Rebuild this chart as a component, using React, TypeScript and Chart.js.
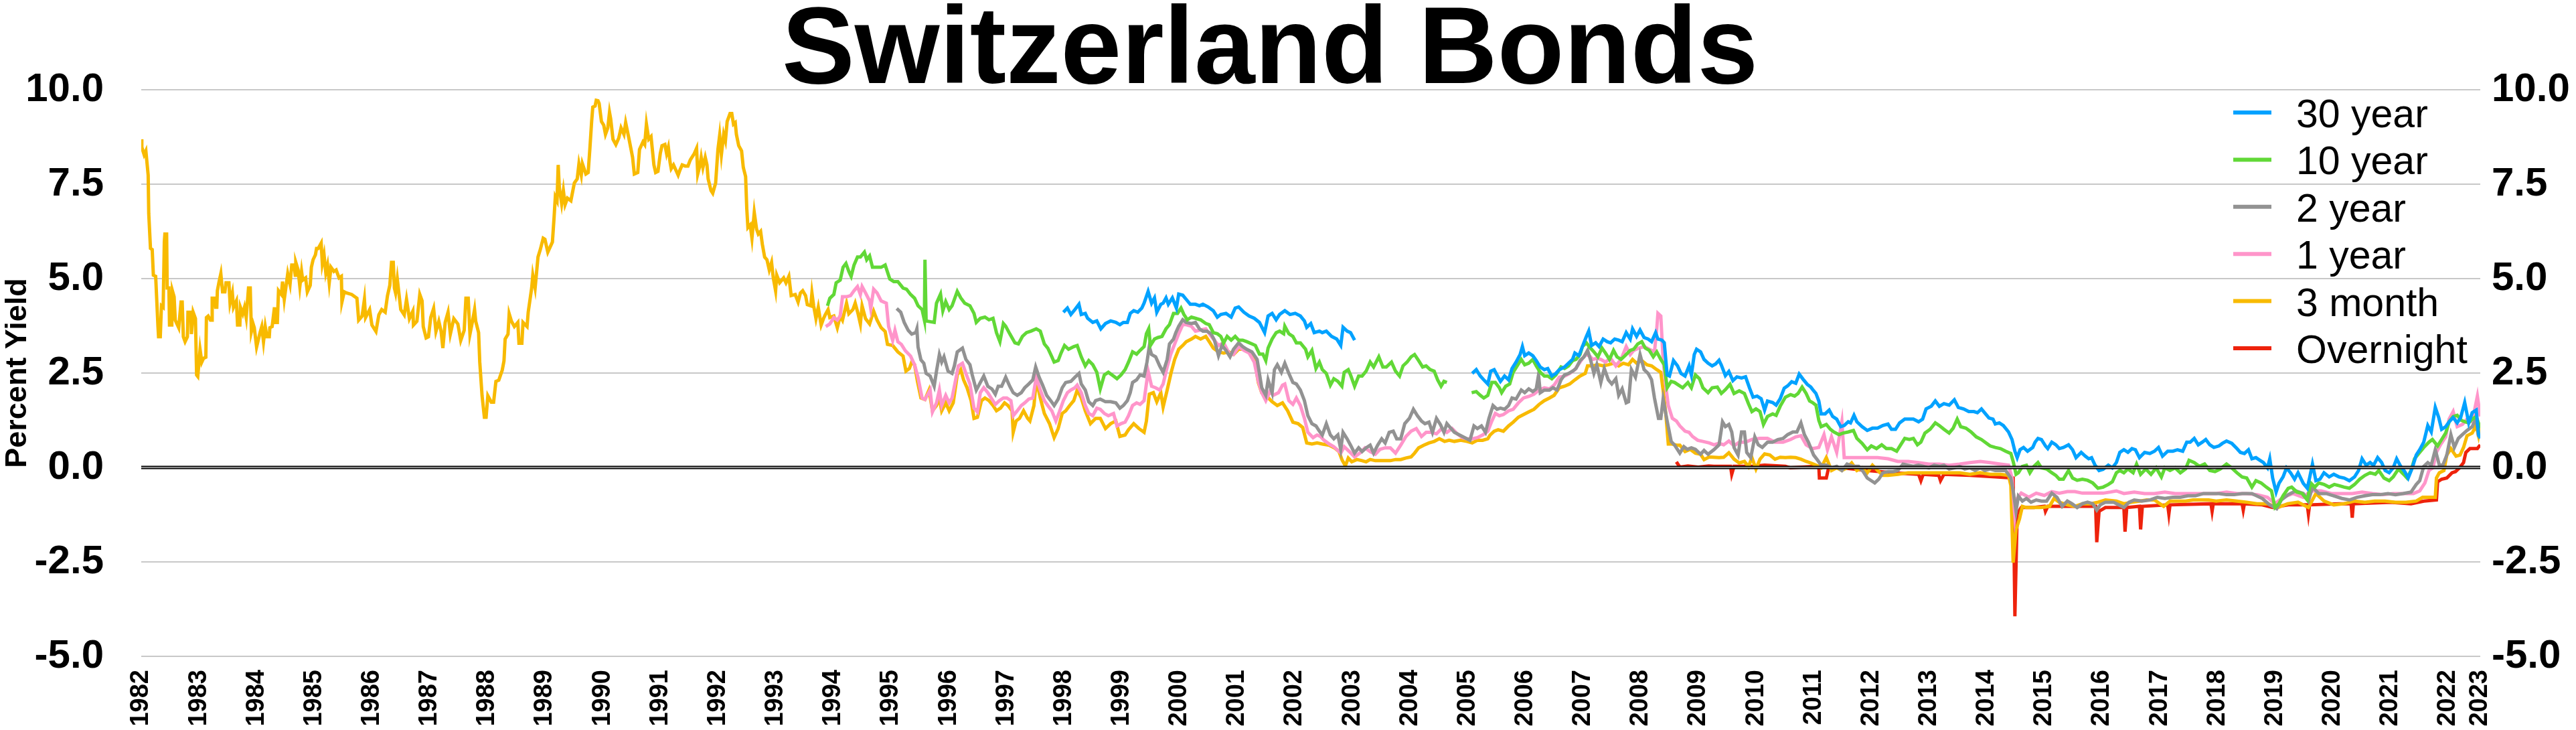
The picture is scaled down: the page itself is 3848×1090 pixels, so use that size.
import React, { useEffect, useRef } from "react";
import { Chart, registerables } from "chart.js";

Chart.register(...registerables);

const FONT = '"Liberation Sans", Arial, Helvetica, sans-serif';

const chartTitle = "Switzerland Bonds";
const yAxisTitle = "Percent Yield";
const seriesLabels = ["30 year", "10 year", "2 year", "1 year", "3 month", "Overnight"];
const seriesColors = ["#00a2ff", "#61d836", "#929292", "#ff95ca", "#f8ba00", "#ee220c"];

const xTickValues = [1982, 1983, 1984, 1985, 1986, 1987, 1988, 1989, 1990, 1991, 1992, 1993, 1994, 1995, 1996, 1997, 1998, 1999, 2000, 2001, 2002, 2003, 2004, 2005, 2006, 2007, 2008, 2009, 2010, 2011, 2012, 2013, 2014, 2015, 2016, 2017, 2018, 2019, 2020, 2021, 2022, 2022.56];
const xTickLabels = ["1982", "1983", "1984", "1985", "1986", "1987", "1988", "1989", "1990", "1991", "1992", "1993", "1994", "1995", "1996", "1997", "1998", "1999", "2000", "2001", "2002", "2003", "2004", "2005", "2006", "2007", "2008", "2009", "2010", "2011", "2012", "2013", "2014", "2015", "2016", "2017", "2018", "2019", "2020", "2021", "2022", "2023"];
const xMin = 1982;
const xMax = 2022.56;
const yMin = -5;
const yMax = 10;
const yStep = 2.5;

type P = [number, number | null];

const yield30y: P[] = [
[1997.99,4.11],[1998.06,4.22],[1998.12,4.05],[1998.19,4.18],[1998.26,4.32],[1998.30,4.05],[1998.37,4.08],[1998.41,3.95],[1998.50,3.84],[1998.57,3.88],[1998.64,3.67],[1998.72,3.81],[1998.81,3.88],[1998.90,3.84],[1998.97,3.78],[1999.03,3.84],[1999.10,3.84],[1999.15,4.08],[1999.21,4.15],[1999.28,4.11],[1999.35,4.22],[1999.39,4.35],[1999.46,4.66],[1999.52,4.35],[1999.57,4.49],[1999.61,4.11],[1999.68,4.32],[1999.72,4.35],[1999.77,4.49],[1999.81,4.32],[1999.88,4.49],[1999.95,4.22],[1999.99,4.59],[2000.06,4.56],[2000.12,4.45],[2000.19,4.32],[2000.28,4.32],[2000.35,4.28],[2000.41,4.32],[2000.50,4.25],[2000.59,4.15],[2000.66,3.98],[2000.72,4.05],[2000.81,4.08],[2000.90,3.98],[2000.97,4.22],[2001.03,4.25],[2001.12,4.11],[2001.21,4.01],[2001.30,3.95],[2001.39,3.84],[2001.48,3.57],[2001.54,4.01],[2001.61,4.08],[2001.68,3.91],[2001.74,4.05],[2001.83,4.15],[2001.92,4.05],[2002.01,4.08],[2002.10,4.01],[2002.17,3.88],[2002.21,3.71],[2002.28,3.81],[2002.34,3.57],[2002.43,3.61],[2002.48,3.57],[2002.55,3.61],[2002.64,3.47],[2002.73,3.40],[2002.80,3.23],[2002.84,3.71],[2002.91,3.61],[2002.97,3.57],[2003.04,3.37],
[2004.00,null],
[2005.08,2.49],[2005.15,2.59],[2005.22,2.42],[2005.28,2.32],[2005.35,2.21],[2005.40,2.55],[2005.46,2.59],[2005.53,2.39],[2005.57,2.28],[2005.64,2.42],[2005.71,2.32],[2005.77,2.62],[2005.84,2.79],[2005.91,2.99],[2005.95,3.20],[2005.99,2.96],[2006.06,3.03],[2006.13,2.96],[2006.19,2.83],[2006.26,2.66],[2006.33,2.59],[2006.39,2.62],[2006.46,2.42],[2006.53,2.49],[2006.59,2.59],[2006.68,2.66],[2006.75,2.76],[2006.82,2.86],[2006.86,3.03],[2006.93,2.96],[2006.99,3.20],[2007.06,3.47],[2007.10,3.61],[2007.15,3.23],[2007.22,3.30],[2007.28,3.20],[2007.35,3.40],[2007.42,3.33],[2007.48,3.30],[2007.55,3.40],[2007.62,3.37],[2007.68,3.33],[2007.75,3.57],[2007.82,3.40],[2007.86,3.67],[2007.93,3.47],[2007.99,3.64],[2008.06,3.44],[2008.13,3.40],[2008.19,3.33],[2008.26,3.57],[2008.30,3.40],[2008.37,3.37],[2008.41,3.30],[2008.46,2.45],[2008.50,2.42],[2008.57,2.83],[2008.64,2.69],[2008.70,2.49],[2008.77,2.42],[2008.84,2.69],[2008.88,2.45],[2008.93,2.99],[2008.97,3.13],[2009.04,3.06],[2009.10,2.86],[2009.17,2.76],[2009.24,2.69],
[2009.30,2.74],[2009.36,2.84],[2009.40,2.71],[2009.47,2.43],[2009.53,2.54],[2009.60,2.30],[2009.67,2.40],[2009.75,2.37],[2009.82,2.40],[2009.89,2.10],[2009.95,1.86],[2010.02,1.89],[2010.09,1.82],[2010.15,1.52],[2010.20,1.76],[2010.29,1.72],[2010.35,1.65],[2010.42,1.82],[2010.49,2.10],[2010.55,2.16],[2010.62,2.27],[2010.69,2.23],[2010.75,2.47],[2010.82,2.33],[2010.89,2.20],[2010.95,2.13],[2011.00,2.03],[2011.04,1.96],[2011.09,1.76],[2011.13,1.42],[2011.20,1.42],[2011.27,1.52],[2011.33,1.35],[2011.40,1.28],[2011.47,1.08],[2011.53,1.11],[2011.60,1.21],[2011.64,1.18],[2011.70,1.38],[2011.75,1.21],[2011.84,1.08],[2011.93,0.98],[2012.02,1.04],[2012.11,1.04],[2012.20,1.11],[2012.29,1.15],[2012.35,1.01],[2012.42,1.01],[2012.49,1.18],[2012.58,1.28],[2012.66,1.28],[2012.73,1.28],[2012.82,1.21],[2012.89,1.28],[2012.95,1.55],[2013.04,1.62],[2013.11,1.76],[2013.18,1.62],[2013.26,1.69],[2013.35,1.65],[2013.44,1.79],[2013.51,1.59],[2013.60,1.55],[2013.69,1.48],[2013.78,1.48],[2013.84,1.45],[2013.91,1.55],[2013.98,1.42],[2014.04,1.31],[2014.11,1.28],[2014.15,1.15],[2014.22,1.18],[2014.29,1.11],[2014.38,0.94],[2014.44,0.74],[2014.49,0.43],[2014.53,0.26],[2014.58,0.47],[2014.64,0.53],[2014.71,0.43],[2014.80,0.53],[2014.84,0.67],[2014.89,0.77],[2014.95,0.74],[2015.02,0.57],[2015.06,0.50],[2015.13,0.67],[2015.20,0.60],[2015.26,0.50],[2015.33,0.53],[2015.42,0.60],[2015.49,0.47],[2015.55,0.26],[2015.64,0.40],[2015.71,0.30],[2015.77,0.23],[2015.82,0.26],[2015.88,0.06],[2015.95,-0.08],[2016.02,-0.05],[2016.11,0.06],
[2016.18,-0.01],[2016.25,0.13],[2016.31,0.40],[2016.38,0.47],[2016.45,0.40],[2016.52,0.50],[2016.58,0.47],[2016.65,0.26],[2016.74,0.40],[2016.83,0.37],[2016.91,0.43],[2016.98,0.53],[2017.05,0.30],[2017.14,0.43],[2017.23,0.43],[2017.31,0.47],[2017.40,0.43],[2017.47,0.67],[2017.53,0.67],[2017.60,0.77],[2017.67,0.60],[2017.74,0.67],[2017.80,0.74],[2017.87,0.60],[2017.94,0.53],[2018.03,0.57],[2018.09,0.64],[2018.16,0.70],[2018.25,0.64],[2018.34,0.50],[2018.40,0.40],[2018.47,0.37],[2018.54,0.47],[2018.60,0.23],[2018.67,0.26],[2018.74,0.19],[2018.80,0.13],[2018.87,-0.01],[2018.91,0.23],[2018.96,-0.28],[2019.02,-0.65],[2019.07,-0.42],[2019.14,-0.25],[2019.20,-0.01],[2019.27,-0.14],[2019.34,-0.31],[2019.40,-0.14],[2019.49,-0.42],[2019.56,-0.55],[2019.60,-0.28],[2019.65,0.09],[2019.71,-0.35],[2019.78,-0.31],[2019.85,-0.14],[2019.94,-0.25],[2020.02,-0.18],[2020.11,-0.25],[2020.20,-0.28],[2020.29,-0.35],[2020.38,-0.25],[2020.45,-0.08],[2020.51,0.23],[2020.58,0.06],[2020.65,0.13],[2020.71,0.06],[2020.78,0.26],[2020.85,0.13],[2020.91,-0.08],[2020.98,-0.14],[2021.05,-0.01],[2021.11,0.23],[2021.18,0.03],[2021.25,-0.11],[2021.31,-0.28],[2021.38,-0.01],[2021.45,0.33],[2021.51,0.47],[2021.58,0.67],[2021.65,1.11],[2021.71,0.94],[2021.78,1.59],[2021.84,1.32],[2021.89,1.01],[2021.96,1.08],[2022.02,1.21],[2022.09,1.32],[2022.16,1.18],[2022.22,1.32],[2022.29,1.72],[2022.36,1.18],[2022.42,1.45],[2022.49,1.52],[2022.53,0.87],[2022.56,0.77]
];

const yield10y: P[] = [
[1993.90,4.28],[1993.94,4.48],[1994.01,4.58],[1994.05,4.89],[1994.12,4.96],[1994.17,5.30],[1994.22,5.40],[1994.27,5.19],[1994.31,5.06],[1994.36,5.36],[1994.42,5.57],[1994.47,5.57],[1994.54,5.70],[1994.58,5.50],[1994.63,5.60],[1994.68,5.30],[1994.76,5.30],[1994.83,5.30],[1994.90,5.36],[1994.98,4.99],[1995.05,4.92],[1995.12,4.92],[1995.21,4.75],[1995.27,4.72],[1995.34,4.58],[1995.41,4.48],[1995.47,4.28],[1995.54,4.18],[1995.58,3.90],[1995.59,5.50],[1995.61,3.88],
[1995.75,3.84],[1995.79,4.35],[1995.86,4.59],[1995.90,4.15],[1995.95,4.39],[1996.01,4.18],[1996.06,4.28],[1996.15,4.66],[1996.21,4.49],[1996.28,4.35],[1996.37,4.28],[1996.44,4.08],[1996.48,3.84],[1996.55,3.95],[1996.63,3.98],[1996.70,3.91],[1996.77,3.95],[1996.83,3.57],[1996.89,3.33],[1996.95,3.81],[1996.99,3.74],[1997.06,3.54],[1997.15,3.30],[1997.21,3.27],[1997.28,3.47],[1997.35,3.57],[1997.43,3.61],[1997.52,3.67],[1997.59,3.61],[1997.66,3.27],[1997.72,3.16],[1997.79,2.93],[1997.83,2.79],[1997.90,2.83],[1997.95,3.03],[1998.01,3.23],[1998.08,3.13],[1998.17,3.20],[1998.23,3.23],[1998.30,2.93],[1998.37,2.69],[1998.43,2.83],[1998.50,2.72],[1998.57,2.52],[1998.63,2.08],[1998.70,2.45],[1998.77,2.52],[1998.86,2.42],[1998.92,2.35],[1998.99,2.45],[1999.06,2.59],[1999.12,2.79],[1999.19,3.06],[1999.26,3.00],[1999.32,3.10],[1999.39,3.20],[1999.43,3.54],[1999.47,3.67],[1999.50,3.23],[1999.57,3.40],[1999.63,3.44],[1999.70,3.47],[1999.77,3.67],[1999.83,3.78],[1999.90,4.08],[1999.97,4.08],[2000.03,4.22],[2000.08,4.05],[2000.14,3.91],[2000.21,3.98],[2000.28,3.95],[2000.37,3.91],[2000.46,3.81],[2000.52,3.78],[2000.59,3.57],[2000.66,3.54],[2000.72,3.47],[2000.77,3.30],[2000.83,3.47],[2000.90,3.37],[2000.97,3.47],[2001.03,3.37],[2001.10,3.37],[2001.17,3.33],[2001.26,3.27],[2001.32,3.23],[2001.39,3.00],[2001.45,3.00],[2001.50,2.83],[2001.54,3.16],[2001.61,3.40],[2001.68,3.57],[2001.74,3.61],[2001.81,3.54],[2001.83,3.74],[2001.90,3.54],[2001.97,3.47],[2002.03,3.30],[2002.10,3.30],[2002.19,3.13],[2002.23,2.93],[2002.30,3.10],[2002.37,2.62],[2002.43,2.79],
[2002.48,2.59],[2002.55,2.49],[2002.62,2.18],[2002.68,2.35],[2002.75,2.28],[2002.82,2.15],[2002.86,2.52],[2002.93,2.59],[2002.97,2.45],[2003.04,2.15],[2003.11,2.42],[2003.17,2.42],[2003.24,2.55],[2003.31,2.79],[2003.37,2.66],[2003.46,2.93],[2003.53,2.66],[2003.59,2.66],[2003.68,2.79],[2003.75,2.55],[2003.82,2.42],[2003.88,2.69],[2003.95,2.79],[2004.02,2.93],[2004.08,2.99],[2004.15,2.83],[2004.22,2.66],[2004.28,2.69],[2004.35,2.59],[2004.42,2.55],[2004.48,2.32],[2004.54,2.15],[2004.59,2.28],[2004.64,2.25],
[2004.85,null],
[2005.07,1.98],[2005.15,2.01],[2005.22,1.91],[2005.28,1.84],[2005.35,1.91],[2005.42,2.25],[2005.48,2.25],[2005.55,2.11],[2005.59,1.98],[2005.66,2.15],[2005.73,2.21],[2005.79,2.52],[2005.86,2.69],[2005.93,2.86],[2005.99,2.72],[2006.06,2.76],[2006.13,2.86],[2006.19,2.69],[2006.26,2.52],[2006.33,2.42],[2006.39,2.42],[2006.46,2.35],[2006.53,2.45],[2006.62,2.66],[2006.68,2.62],[2006.75,2.69],[2006.82,2.83],[2006.88,2.86],[2006.95,2.99],[2006.99,3.20],[2007.06,3.30],[2007.13,3.16],[2007.19,3.06],[2007.26,2.93],[2007.33,3.16],[2007.39,3.03],[2007.46,2.86],[2007.53,3.10],[2007.59,2.93],[2007.66,2.86],[2007.73,2.96],[2007.82,3.10],[2007.88,3.13],[2007.95,3.27],[2008.02,3.33],[2008.08,3.16],[2008.15,3.10],[2008.22,2.93],[2008.28,3.06],[2008.35,2.86],[2008.41,2.72],[2008.46,2.11],[2008.53,2.28],[2008.59,2.25],[2008.66,2.18],[2008.73,2.11],[2008.82,2.25],[2008.88,2.11],[2008.95,2.45],[2009.02,2.35],[2009.08,2.11],[2009.17,1.98],[2009.24,2.11],
[2009.33,2.13],[2009.40,1.96],[2009.47,2.06],[2009.55,2.20],[2009.62,1.96],[2009.71,2.03],[2009.80,1.96],[2009.87,1.69],[2009.93,1.48],[2010.00,1.55],[2010.07,1.48],[2010.13,1.14],[2010.20,1.35],[2010.29,1.42],[2010.35,1.38],[2010.42,1.62],[2010.51,1.86],[2010.60,1.93],[2010.67,1.89],[2010.73,1.96],[2010.80,2.13],[2010.87,1.96],[2010.93,1.76],[2010.98,1.72],[2011.04,1.65],[2011.09,1.25],[2011.13,1.08],[2011.22,1.14],[2011.29,1.01],[2011.35,0.94],[2011.44,0.87],[2011.51,0.91],[2011.60,0.94],[2011.69,0.98],[2011.75,0.77],[2011.84,0.64],[2011.93,0.47],[2012.00,0.57],[2012.09,0.50],[2012.18,0.60],[2012.26,0.50],[2012.35,0.50],[2012.44,0.43],[2012.51,0.60],[2012.58,0.77],[2012.66,0.74],[2012.73,0.77],[2012.80,0.60],[2012.86,0.67],[2012.93,0.91],[2013.02,1.01],[2013.11,1.18],[2013.18,1.11],[2013.26,1.01],[2013.35,0.91],[2013.42,1.04],[2013.49,1.28],[2013.55,1.08],[2013.64,1.04],[2013.73,0.94],[2013.82,0.81],[2013.91,0.74],[2014.00,0.64],[2014.06,0.57],[2014.15,0.53],[2014.24,0.50],[2014.33,0.43],[2014.42,0.37],[2014.46,0.16],[2014.51,-0.18],[2014.55,-0.14],[2014.62,0.03],[2014.69,0.06],[2014.75,-0.14],[2014.82,0.03],[2014.89,0.13],[2014.95,-0.01],[2015.04,-0.04],[2015.13,-0.14],[2015.20,-0.21],[2015.26,-0.31],[2015.33,-0.31],[2015.42,-0.08],[2015.49,-0.28],[2015.57,-0.34],[2015.66,-0.31],[2015.75,-0.34],[2015.84,-0.41],[2015.93,-0.55],[2016.02,-0.52],[2016.11,-0.45],
[2016.18,-0.38],[2016.25,-0.14],[2016.31,-0.08],[2016.38,-0.14],[2016.45,-0.04],[2016.54,-0.14],[2016.60,0.09],[2016.67,-0.18],[2016.76,-0.04],[2016.85,-0.18],[2016.94,-0.01],[2017.03,-0.25],[2017.09,-0.01],[2017.18,-0.08],[2017.27,-0.01],[2017.36,-0.14],[2017.45,-0.04],[2017.51,0.19],[2017.60,0.13],[2017.69,0.03],[2017.78,0.09],[2017.87,-0.08],[2017.96,-0.11],[2018.05,-0.04],[2018.16,0.09],[2018.25,-0.01],[2018.34,-0.14],[2018.43,-0.25],[2018.51,-0.28],[2018.60,-0.52],[2018.67,-0.35],[2018.76,-0.41],[2018.85,-0.52],[2018.94,-0.62],[2019.00,-1.06],[2019.07,-0.96],[2019.14,-0.75],[2019.23,-0.55],[2019.29,-0.52],[2019.38,-0.65],[2019.47,-0.69],[2019.56,-0.86],[2019.62,-0.41],[2019.69,-0.52],[2019.76,-0.41],[2019.85,-0.45],[2019.94,-0.52],[2020.03,-0.45],[2020.11,-0.48],[2020.20,-0.52],[2020.29,-0.55],[2020.38,-0.45],[2020.47,-0.31],[2020.56,-0.21],[2020.65,-0.14],[2020.74,-0.18],[2020.80,-0.08],[2020.89,-0.28],[2020.98,-0.35],[2021.05,-0.25],[2021.14,-0.04],[2021.23,-0.18],[2021.29,-0.28],[2021.36,-0.08],[2021.42,0.23],[2021.51,0.40],[2021.58,0.53],[2021.67,0.67],[2021.73,0.74],[2021.82,0.57],[2021.89,0.74],[2021.96,0.91],[2022.02,1.21],[2022.09,1.35],[2022.16,1.38],[2022.23,1.25],[2022.29,1.21],[2022.36,1.18],[2022.42,1.28],[2022.49,1.35],[2022.56,1.04]
];

const yield2y: P[] = [
[1995.10,4.21],[1995.17,4.11],[1995.23,3.84],[1995.30,3.63],[1995.36,3.53],[1995.43,3.57],[1995.45,3.67],[1995.47,3.19],[1995.52,2.85],
[1995.57,2.76],[1995.61,2.49],[1995.68,2.42],[1995.75,2.15],[1995.79,2.55],[1995.84,2.99],[1995.88,2.79],[1995.92,2.93],[1995.99,2.55],[1996.06,2.49],[1996.10,2.69],[1996.15,3.06],[1996.24,3.16],[1996.30,2.86],[1996.37,2.72],[1996.41,2.45],[1996.48,2.05],[1996.55,2.25],[1996.61,2.42],[1996.68,2.15],[1996.75,2.08],[1996.81,1.94],[1996.86,2.15],[1996.92,2.15],[1996.99,2.39],[1997.06,2.15],[1997.12,1.98],[1997.19,1.91],[1997.26,1.98],[1997.32,2.11],[1997.39,2.21],[1997.46,2.32],[1997.51,2.66],[1997.57,2.39],[1997.63,2.18],[1997.70,1.91],[1997.77,1.77],[1997.83,1.64],[1997.90,1.81],[1997.97,2.11],[1998.03,2.25],[1998.12,2.28],[1998.19,2.39],[1998.26,2.49],[1998.30,2.21],[1998.37,2.05],[1998.43,1.74],[1998.50,1.64],[1998.55,1.77],[1998.63,1.81],[1998.72,1.74],[1998.81,1.74],[1998.90,1.71],[1998.97,1.57],[1999.03,1.64],[1999.10,1.77],[1999.15,1.98],[1999.19,2.25],[1999.26,2.32],[1999.32,2.45],[1999.39,2.42],[1999.44,2.79],[1999.48,3.20],[1999.52,2.99],[1999.59,2.93],[1999.66,2.69],[1999.72,2.52],[1999.79,2.86],[1999.83,3.27],[1999.90,3.40],[1999.94,3.57],[1999.99,3.74],[2000.06,3.91],[2000.12,3.84],[2000.21,3.81],[2000.28,3.84],[2000.35,3.67],[2000.41,3.61],[2000.48,3.61],[2000.55,3.54],[2000.61,3.37],[2000.68,2.96],[2000.74,3.23],[2000.81,3.10],[2000.88,2.93],[2000.94,3.13],[2001.03,3.30],[2001.10,3.20],[2001.17,3.13],[2001.26,3.06],[2001.35,2.86],[2001.39,2.49],[2001.43,2.11],[2001.50,1.91],[2001.54,2.32],[2001.61,1.98],[2001.65,2.59],[2001.70,2.72],[2001.77,2.52],[2001.83,2.76],[2001.90,2.49],[2001.97,2.25],[2002.03,2.21],[2002.10,2.05],[2002.17,1.77],[2002.23,1.37],[2002.30,1.16],[2002.37,1.10],[2002.43,0.96],
[2002.48,0.86],[2002.55,1.16],[2002.62,0.86],[2002.68,0.76],[2002.75,0.86],[2002.80,0.48],[2002.84,0.93],[2002.91,0.76],[2002.97,0.59],[2003.04,0.38],[2003.11,0.52],[2003.17,0.42],[2003.24,0.52],[2003.31,0.59],[2003.37,0.38],[2003.44,0.59],[2003.51,0.76],[2003.57,0.65],[2003.64,0.93],[2003.71,0.96],[2003.77,0.76],[2003.84,0.76],[2003.91,1.16],[2003.99,1.30],[2004.06,1.54],[2004.13,1.37],[2004.20,1.23],[2004.26,1.16],[2004.33,1.20],[2004.39,0.93],[2004.46,1.30],[2004.53,1.13],[2004.59,0.93],[2004.64,1.16],[2004.77,0.93],[2004.91,0.82],[2005.04,0.72],[2005.11,1.10],[2005.17,1.03],[2005.24,1.10],[2005.31,0.93],[2005.37,1.30],[2005.44,1.64],[2005.51,1.54],[2005.57,1.57],[2005.64,1.54],[2005.71,1.64],[2005.77,1.84],[2005.84,1.81],[2005.93,2.05],[2005.99,1.98],[2006.06,2.08],[2006.13,2.01],[2006.19,2.08],[2006.23,2.45],[2006.26,1.98],[2006.33,2.05],[2006.42,2.05],[2006.48,2.11],[2006.55,2.05],[2006.62,2.32],[2006.68,2.45],[2006.75,2.49],[2006.82,2.55],[2006.88,2.62],[2006.95,2.83],[2007.02,2.93],[2007.08,3.10],[2007.13,2.86],[2007.19,2.49],[2007.24,2.72],[2007.31,2.25],[2007.37,2.62],[2007.44,2.32],[2007.50,2.21],[2007.57,2.35],[2007.62,1.91],[2007.68,2.08],[2007.75,1.71],[2007.79,1.74],[2007.84,2.59],[2007.91,2.39],[2007.99,2.99],[2008.06,2.59],[2008.13,2.49],[2008.19,2.32],[2008.24,1.84],[2008.31,1.30],[2008.35,1.30],[2008.39,1.81],[2008.46,1.23],[2008.53,0.69],[2008.59,0.59],[2008.68,0.38],[2008.75,0.55],[2008.81,0.48],[2008.88,0.52],[2008.95,0.48],[2009.04,0.35],[2009.10,0.45],[2009.17,0.35],
[2009.27,0.47],[2009.36,0.60],[2009.42,1.21],[2009.47,1.08],[2009.53,1.14],[2009.58,0.94],[2009.62,0.53],[2009.69,0.33],[2009.75,0.94],[2009.80,0.94],[2009.84,0.40],[2009.91,0.26],[2009.98,0.81],[2010.04,0.60],[2010.11,0.53],[2010.20,0.67],[2010.29,0.67],[2010.38,0.74],[2010.47,0.77],[2010.55,0.87],[2010.64,0.94],[2010.71,0.94],[2010.78,1.18],[2010.84,0.87],[2010.91,0.67],[2011.00,0.33],[2011.07,0.19],[2011.13,0.06],[2011.22,0.06],[2011.31,-0.01],[2011.40,0.03],[2011.49,-0.08],[2011.58,0.09],[2011.69,0.03],[2011.78,0.03],[2011.86,-0.11],[2011.93,-0.28],[2012.00,-0.35],[2012.06,-0.41],[2012.13,-0.31],[2012.20,-0.14],[2012.29,-0.11],[2012.38,-0.11],[2012.46,-0.08],[2012.55,0.09],[2012.64,0.06],[2012.73,0.03],[2012.82,0.06],[2012.91,0.03],[2013.00,-0.01],[2013.09,0.06],[2013.18,0.03],[2013.26,0.06],[2013.35,-0.04],[2013.44,-0.01],[2013.53,0.03],[2013.62,-0.04],[2013.71,-0.01],[2013.80,-0.08],[2013.89,-0.01],[2013.97,-0.08],[2014.06,-0.04],[2014.15,-0.08],[2014.24,-0.08],[2014.33,-0.08],[2014.42,-0.28],[2014.46,-0.62],[2014.51,-1.16],[2014.55,-0.76],[2014.62,-0.89],[2014.69,-0.82],[2014.77,-0.92],[2014.86,-0.86],[2014.95,-0.89],[2015.04,-0.89],[2015.13,-0.68],[2015.22,-0.79],[2015.31,-1.03],[2015.40,-0.89],[2015.48,-0.96],[2015.57,-1.06],[2015.66,-0.96],[2015.75,-0.92],[2015.84,-0.96],[2015.91,-1.13],[2015.97,-0.99],[2016.06,-0.92],
[2016.20,-0.92],[2016.29,-0.99],[2016.38,-1.06],[2016.47,-0.92],[2016.56,-0.86],[2016.69,-0.89],[2016.83,-0.86],[2016.96,-0.79],[2017.09,-0.82],[2017.23,-0.79],[2017.36,-0.79],[2017.49,-0.75],[2017.62,-0.75],[2017.76,-0.69],[2017.89,-0.69],[2018.03,-0.69],[2018.16,-0.72],[2018.29,-0.72],[2018.43,-0.69],[2018.60,-0.69],[2018.78,-0.82],[2018.91,-0.99],[2019.03,-1.09],[2019.11,-0.86],[2019.23,-0.72],[2019.36,-0.62],[2019.49,-0.69],[2019.58,-0.89],[2019.65,-0.52],[2019.76,-0.69],[2019.89,-0.69],[2020.02,-0.75],[2020.16,-0.82],[2020.29,-0.86],[2020.42,-0.79],[2020.56,-0.75],[2020.69,-0.72],[2020.82,-0.72],[2020.96,-0.69],[2021.09,-0.72],[2021.22,-0.69],[2021.36,-0.65],[2021.45,-0.45],[2021.51,-0.35],[2021.58,0.03],[2021.65,0.13],[2021.71,0.06],[2021.78,0.47],[2021.85,0.06],[2021.91,0.06],[2021.98,0.33],[2022.05,0.87],[2022.11,0.53],[2022.18,0.77],[2022.25,0.87],[2022.33,0.98],[2022.42,1.08],[2022.49,1.31],[2022.53,0.81]
];

const yield1y: P[] = [
[1993.87,3.73],[1993.94,3.80],[1994.01,3.97],[1994.07,3.90],[1994.12,4.01],[1994.16,4.52],[1994.23,4.52],[1994.30,4.55],[1994.36,4.68],[1994.42,4.79],[1994.47,4.58],[1994.50,4.79],[1994.56,4.62],[1994.63,4.41],[1994.65,4.21],[1994.70,4.72],[1994.76,4.62],[1994.83,4.41],[1994.92,4.35],[1994.96,3.73],[1995.03,3.36],[1995.07,3.63],[1995.12,3.33],[1995.18,3.26],[1995.25,3.09],[1995.34,2.95],[1995.41,2.72],[1995.47,2.38],[1995.54,1.84],[1995.59,1.80],
[1995.68,2.05],[1995.72,1.47],[1995.79,1.71],[1995.84,2.05],[1995.88,1.64],[1995.95,1.91],[1996.01,1.71],[1996.06,1.84],[1996.10,2.15],[1996.17,2.69],[1996.24,2.76],[1996.30,2.49],[1996.37,2.21],[1996.44,1.57],[1996.50,1.47],[1996.55,1.98],[1996.61,2.11],[1996.68,1.98],[1996.75,1.81],[1996.81,1.67],[1996.88,1.77],[1996.95,1.84],[1997.01,1.84],[1997.08,1.77],[1997.12,1.37],[1997.19,1.50],[1997.26,1.64],[1997.32,1.71],[1997.39,1.81],[1997.46,1.84],[1997.52,2.39],[1997.59,2.05],[1997.66,1.77],[1997.72,1.64],[1997.79,1.50],[1997.86,1.23],[1997.92,1.47],[1997.99,1.77],[1998.06,1.98],[1998.12,2.05],[1998.19,2.11],[1998.23,2.18],[1998.30,1.98],[1998.37,1.64],[1998.43,1.43],[1998.50,1.37],[1998.57,1.57],[1998.63,1.54],[1998.70,1.43],[1998.77,1.37],[1998.86,1.43],[1998.92,1.10],[1998.99,1.16],[1999.06,1.20],[1999.12,1.37],[1999.19,1.64],[1999.26,1.71],[1999.32,1.67],[1999.39,1.77],[1999.46,2.55],[1999.52,2.15],[1999.59,2.11],[1999.66,2.05],[1999.72,2.21],[1999.79,2.66],[1999.85,2.99],[1999.92,3.27],[1999.99,3.54],[2000.06,3.78],[2000.12,3.78],[2000.21,3.74],[2000.28,3.61],[2000.37,3.64],[2000.46,3.67],[2000.52,3.54],[2000.59,3.40],[2000.68,3.23],[2000.77,3.30],[2000.86,3.03],[2000.94,2.99],[2001.03,3.20],[2001.12,3.10],[2001.21,3.03],[2001.30,2.79],[2001.37,2.28],[2001.43,1.98],[2001.50,1.77],[2001.57,2.01],[2001.63,1.91],[2001.72,1.98],[2001.79,2.18],[2001.83,2.21],[2001.90,1.77],[2001.97,1.67],[2002.03,1.84],[2002.10,1.64],[2002.17,1.30],[2002.23,0.93],[2002.32,0.79],[2002.39,0.86],[2002.45,0.82],
[2002.51,0.72],[2002.60,0.62],[2002.68,0.55],[2002.80,0.38],[2002.86,0.55],[2002.95,0.42],[2003.04,0.28],[2003.13,0.38],[2003.22,0.52],[2003.31,0.42],[2003.40,0.35],[2003.48,0.48],[2003.57,0.52],[2003.66,0.52],[2003.75,0.38],[2003.84,0.59],[2003.93,0.82],[2004.02,0.96],[2004.11,1.03],[2004.20,0.82],[2004.28,0.93],[2004.37,0.93],[2004.46,0.89],[2004.55,1.03],[2004.64,0.93],[2004.73,1.03],[2004.82,0.89],[2004.91,0.79],[2004.99,0.76],[2005.08,0.76],[2005.17,0.79],[2005.26,0.86],[2005.35,0.96],[2005.42,1.23],[2005.48,1.43],[2005.55,1.37],[2005.62,1.40],[2005.71,1.50],[2005.79,1.54],[2005.88,1.71],[2005.97,1.84],[2006.06,1.88],[2006.15,1.94],[2006.24,2.05],[2006.33,2.11],[2006.42,2.08],[2006.50,2.18],[2006.59,2.39],[2006.68,2.42],[2006.77,2.49],[2006.86,2.59],[2006.95,2.79],[2007.04,2.99],[2007.11,2.96],[2007.17,2.86],[2007.24,2.89],[2007.31,2.86],[2007.39,2.79],[2007.48,2.89],[2007.57,2.69],[2007.66,2.86],[2007.75,3.20],[2007.82,2.99],[2007.88,3.10],[2007.97,3.16],[2008.06,3.20],[2008.15,3.13],[2008.24,3.06],[2008.28,3.67],[2008.30,4.08],[2008.35,4.01],[2008.39,2.86],[2008.44,2.11],[2008.48,1.64],[2008.55,1.30],[2008.62,1.23],[2008.68,1.10],[2008.77,0.96],[2008.84,0.93],[2008.90,0.82],[2008.99,0.72],[2009.08,0.69],[2009.19,0.65],
[2009.27,0.60],[2009.36,0.64],[2009.44,0.60],[2009.53,0.70],[2009.62,0.57],[2009.71,0.67],[2009.82,0.67],[2009.93,0.74],[2010.07,0.77],[2010.20,0.77],[2010.33,0.67],[2010.47,0.67],[2010.60,0.74],[2010.69,0.81],[2010.78,0.84],[2010.87,0.60],[2010.98,0.50],[2011.09,0.53],[2011.18,0.87],[2011.24,0.47],[2011.31,0.81],[2011.40,0.40],[2011.49,1.21],[2011.53,0.26],[2011.62,0.26],[2011.75,0.26],[2011.93,0.26],[2012.11,0.26],[2012.29,0.23],[2012.46,0.16],[2012.64,0.16],[2012.82,0.13],[2013.00,0.09],[2013.18,0.09],[2013.35,0.06],[2013.53,0.09],[2013.71,0.13],[2013.89,0.16],[2014.06,0.13],[2014.24,0.09],[2014.38,0.06],[2014.44,-0.28],[2014.49,-1.30],[2014.53,-0.82],[2014.60,-0.68],[2014.73,-0.79],[2014.86,-0.68],[2015.00,-0.74],[2015.13,-0.64],[2015.26,-0.68],[2015.40,-0.64],[2015.53,-0.64],[2015.66,-0.68],[2015.84,-0.68],[2016.02,-0.68],
[2016.15,-0.65],[2016.25,-0.62],[2016.38,-0.69],[2016.56,-0.65],[2016.74,-0.69],[2016.91,-0.69],[2017.09,-0.65],[2017.27,-0.69],[2017.45,-0.69],[2017.62,-0.69],[2017.80,-0.69],[2017.98,-0.69],[2018.16,-0.65],[2018.34,-0.69],[2018.51,-0.69],[2018.69,-0.72],[2018.87,-0.79],[2019.00,-0.96],[2019.14,-0.79],[2019.31,-0.69],[2019.49,-0.79],[2019.62,-0.62],[2019.80,-0.62],[2019.98,-0.69],[2020.16,-0.69],[2020.34,-0.69],[2020.51,-0.65],[2020.69,-0.69],[2020.87,-0.72],[2021.05,-0.69],[2021.22,-0.69],[2021.40,-0.69],[2021.51,-0.62],[2021.60,-0.41],[2021.67,-0.08],[2021.74,-0.01],[2021.80,0.40],[2021.87,0.60],[2021.96,0.81],[2022.02,1.28],[2022.09,1.48],[2022.16,1.08],[2022.25,1.14],[2022.33,1.28],[2022.42,1.21],[2022.51,1.89],[2022.56,1.35]
];

const yield3m: P[] = [
[1982.00,8.69],[1982.01,8.48],[1982.05,8.28],[1982.08,8.38],[1982.12,7.74],[1982.13,6.72],[1982.16,5.80],[1982.19,5.77],[1982.21,5.09],[1982.25,5.06],[1982.29,3.73],[1982.30,3.46],[1982.33,3.46],[1982.35,4.28],[1982.38,4.24],[1982.40,5.97],[1982.41,6.18],[1982.44,6.18],[1982.45,4.75],[1982.48,4.75],[1982.49,3.77],[1982.53,3.77],[1982.54,4.68],[1982.57,4.52],[1982.59,3.90],[1982.65,3.70],[1982.69,4.38],[1982.71,4.38],[1982.73,3.46],[1982.76,3.33],[1982.80,3.46],[1982.81,4.11],[1982.86,4.11],[1982.87,3.53],[1982.90,4.11],[1982.94,3.94],[1982.96,2.45],[1982.98,2.41],[1983.02,3.12],[1983.05,2.79],[1983.08,2.89],[1983.12,2.92],[1983.13,3.97],[1983.16,4.01],[1983.20,3.90],[1983.22,3.90],[1983.23,4.48],[1983.27,4.48],[1983.29,4.24],[1983.31,4.24],[1983.32,4.68],[1983.35,4.92],[1983.38,5.13],[1983.41,4.65],[1983.45,4.65],[1983.47,4.89],[1983.52,4.89],[1983.54,4.35],[1983.58,4.62],[1983.60,4.24],[1983.65,4.41],[1983.67,3.77],[1983.71,3.77],[1983.72,4.24],[1983.76,4.07],[1983.79,4.24],[1983.82,3.97],[1983.86,4.75],[1983.89,4.75],[1983.91,3.60],[1983.94,3.80],[1983.96,3.70],[1984.00,3.19],[1984.06,3.57],[1984.09,3.73],[1984.12,3.33],[1984.15,3.73],[1984.18,3.46],[1984.22,3.46],[1984.23,3.70],[1984.27,3.73],[1984.31,4.24],[1984.33,3.84],[1984.36,3.84],[1984.38,4.68],[1984.43,4.58],[1984.45,4.92],[1984.48,4.45],[1984.51,4.79],[1984.54,5.13],[1984.58,4.85],[1984.61,5.36],[1984.65,5.36],[1984.67,5.09],[1984.68,5.43],[1984.72,5.23],[1984.75,4.79],[1984.78,5.19],[1984.80,4.96],[1984.85,5.02],[1984.88,4.65],[1984.93,4.82],[1984.95,5.30],[1984.98,5.50],[1985.02,5.63],[1985.04,5.80],[1985.07,5.80],[1985.12,5.94],[1985.14,5.40],[1985.17,5.63],[1985.20,5.16],[1985.23,5.36],[1985.26,4.89],[1985.29,5.30],[1985.34,5.19],[1985.38,5.23],[1985.43,5.02],[1985.47,5.06],[1985.48,4.38],[1985.52,4.65],[1985.56,4.62],[1985.65,4.58],[1985.74,4.48],[1985.77,3.90],[1985.83,4.01],[1985.87,4.45],[1985.89,3.97],[1985.96,4.18],[1986.00,3.77],[1986.07,3.60],[1986.12,4.04],[1986.17,4.18],[1986.23,4.11],[1986.27,4.55],[1986.31,4.82],[1986.34,5.43],[1986.37,5.43],[1986.39,4.75],[1986.41,4.62],[1986.44,4.99],[1986.50,4.18],[1986.56,4.04],[1986.60,4.45],[1986.65,3.94],[1986.71,4.14],[1986.72,3.77],[1986.78,3.87],[1986.83,4.58],[1986.87,4.41],[1986.89,3.73],[1986.94,3.43],[1986.98,3.46],[1987.02,3.97],[1987.07,4.21],[1987.11,3.60],[1987.16,3.87],[1987.20,3.60],[1987.23,3.16],[1987.27,3.84],[1987.32,4.11],[1987.36,3.53],[1987.42,3.94],[1987.49,3.80],[1987.54,3.36],[1987.60,3.63],[1987.63,4.48],[1987.67,4.48],[1987.70,3.53],[1987.74,3.84],[1987.78,4.18],[1987.80,3.87],[1987.85,3.57],[1987.87,2.79],[1987.91,1.90],[1987.95,1.33],[1987.98,1.33],[1988.01,1.90],[1988.07,1.73],[1988.11,1.73],[1988.15,2.28],[1988.20,2.31],[1988.26,2.58],[1988.29,2.82],[1988.31,3.40],[1988.36,3.53],[1988.38,4.07],[1988.42,3.87],[1988.47,3.73],[1988.53,3.84],[1988.55,3.29],[1988.60,3.29],[1988.62,3.84],[1988.69,3.73],[1988.71,4.11],
[1988.77,4.75],[1988.79,5.09],[1988.83,4.75],[1988.88,5.57],[1988.92,5.77],[1988.97,6.07],[1989.00,6.04],[1989.05,5.70],[1989.13,5.97],[1989.16,6.65],[1989.18,7.16],[1989.21,7.06],[1989.23,8.01],[1989.25,7.40],[1989.29,6.99],[1989.32,7.33],[1989.35,6.96],[1989.39,7.13],[1989.45,7.06],[1989.51,7.53],[1989.56,7.64],[1989.59,8.04],[1989.63,7.74],[1989.65,8.04],[1989.71,7.77],[1989.75,7.81],[1989.78,8.45],[1989.81,9.16],[1989.83,9.54],[1989.87,9.57],[1989.89,9.72],[1989.92,9.71],[1989.94,9.64],[1989.98,9.16],[1990.02,9.06],[1990.05,8.82],[1990.09,8.99],[1990.12,9.40],[1990.14,9.23],[1990.18,8.69],[1990.23,8.55],[1990.28,8.72],[1990.32,8.99],[1990.37,8.82],[1990.40,9.13],[1990.45,8.76],[1990.49,8.45],[1990.52,8.21],[1990.55,7.77],[1990.61,7.81],[1990.64,8.42],[1990.70,8.62],[1990.73,8.55],[1990.76,9.09],[1990.80,8.69],[1990.84,8.76],[1990.89,8.01],[1990.92,7.81],[1990.96,7.84],[1991.00,8.31],[1991.03,8.52],[1991.08,8.55],[1991.11,8.31],[1991.14,8.48],[1991.17,8.08],[1991.19,7.91],[1991.23,8.01],[1991.28,7.84],[1991.31,7.74],[1991.34,7.87],[1991.38,8.01],[1991.43,7.98],[1991.48,7.98],[1991.52,8.14],[1991.59,8.31],[1991.63,8.45],[1991.65,7.77],[1991.69,8.01],[1991.71,8.21],[1991.74,7.94],[1991.78,8.21],[1991.81,8.01],[1991.83,7.64],[1991.88,7.33],[1991.91,7.26],[1991.96,7.53],[1992.00,8.42],[1992.03,8.79],[1992.06,8.28],[1992.10,8.82],[1992.13,8.65],[1992.16,9.16],[1992.21,9.37],[1992.24,9.37],[1992.27,9.09],[1992.30,9.13],[1992.32,8.82],[1992.36,8.52],[1992.41,8.38],[1992.44,7.94],[1992.48,7.70],[1992.50,6.86],[1992.52,6.35],[1992.56,6.42],[1992.59,6.07],[1992.63,6.75],[1992.67,6.31],[1992.70,6.18],[1992.74,6.25],[1992.77,5.91],[1992.81,5.57],[1992.85,5.50],[1992.89,5.23],[1992.93,5.43],[1992.96,5.02],[1993.00,4.68],[1993.02,5.09],[1993.07,4.89],[1993.14,5.02],[1993.18,4.89],[1993.23,5.06],[1993.27,4.55],[1993.34,4.58],[1993.39,4.38],[1993.43,4.62],[1993.47,4.68],[1993.52,4.55],[1993.55,4.31],[1993.61,4.28],[1993.63,4.62],[1993.66,4.28],[1993.70,3.94],[1993.74,4.24],[1993.79,3.77],[1993.83,3.94],[1993.86,4.04],[1993.91,4.18],[1993.94,3.97],[1994.01,4.01],[1994.07,3.70],[1994.12,4.01],[1994.16,3.90],[1994.23,4.35],[1994.27,4.07],[1994.34,4.18],[1994.38,4.35],[1994.43,4.07],[1994.47,3.80],[1994.50,4.28],[1994.56,3.94],[1994.63,3.80],[1994.70,4.14],[1994.76,3.90],[1994.83,3.70],[1994.90,3.60],[1994.94,3.26],[1995.03,3.23],[1995.12,3.06],[1995.21,2.95],[1995.26,2.55],[1995.32,2.62],[1995.36,2.79],[1995.41,2.72],[1995.46,2.28],[1995.52,1.84],[1995.59,1.80],
[1995.66,2.05],[1995.72,1.50],[1995.79,1.64],[1995.84,1.84],[1995.88,1.50],[1995.95,1.71],[1996.01,1.50],[1996.08,1.71],[1996.15,2.45],[1996.21,2.59],[1996.26,2.32],[1996.32,2.11],[1996.39,1.77],[1996.44,1.30],[1996.50,1.33],[1996.57,1.77],[1996.63,1.84],[1996.70,1.77],[1996.77,1.64],[1996.83,1.50],[1996.90,1.57],[1996.97,1.71],[1997.03,1.64],[1997.10,1.50],[1997.12,0.93],[1997.17,1.23],[1997.23,1.30],[1997.30,1.50],[1997.37,1.30],[1997.41,1.23],[1997.48,1.64],[1997.52,2.32],[1997.59,1.84],[1997.66,1.43],[1997.75,1.16],[1997.83,0.79],[1997.90,1.03],[1997.97,1.43],[1998.03,1.50],[1998.10,1.64],[1998.17,1.77],[1998.23,2.05],[1998.30,1.84],[1998.37,1.50],[1998.46,1.16],[1998.55,1.30],[1998.63,1.30],[1998.72,1.03],[1998.81,1.16],[1998.90,1.23],[1998.97,0.82],[1999.06,0.86],[1999.12,1.00],[1999.21,1.16],[1999.30,1.03],[1999.39,0.93],[1999.43,1.23],[1999.48,1.94],[1999.55,1.98],[1999.61,1.74],[1999.68,1.98],[1999.72,1.60],[1999.79,2.05],[1999.86,2.52],[1999.92,2.86],[1999.99,3.13],[2000.06,3.23],[2000.12,3.33],[2000.21,3.40],[2000.28,3.47],[2000.37,3.40],[2000.46,3.47],[2000.52,3.33],[2000.59,3.16],[2000.68,3.06],[2000.77,3.03],[2000.86,3.06],[2000.94,2.99],[2001.03,3.13],[2001.12,3.13],[2001.21,3.06],[2001.30,2.93],[2001.37,2.25],[2001.43,1.98],[2001.52,1.88],[2001.61,1.74],[2001.70,1.64],[2001.79,1.71],[2001.88,1.50],[2001.97,1.20],[2002.06,1.16],[2002.14,1.06],[2002.21,0.65],[2002.30,0.62],[2002.39,0.65],[2002.48,0.62],
[2002.60,0.59],[2002.69,0.52],[2002.77,0.42],[2002.82,0.21],[2002.88,0.04],[2002.93,0.25],[2002.99,0.15],[2003.08,0.21],[2003.17,0.18],[2003.24,0.15],[2003.31,0.21],[2003.40,0.18],[2003.48,0.18],[2003.57,0.18],[2003.66,0.18],[2003.75,0.21],[2003.84,0.21],[2003.93,0.25],[2004.02,0.28],[2004.08,0.38],[2004.15,0.52],[2004.24,0.59],[2004.33,0.65],[2004.42,0.69],[2004.51,0.76],[2004.60,0.69],[2004.68,0.72],[2004.77,0.69],[2004.88,0.72],[2004.99,0.69],[2005.08,0.65],[2005.17,0.72],[2005.26,0.72],[2005.35,0.76],[2005.39,0.86],[2005.46,0.96],[2005.53,1.00],[2005.62,0.96],[2005.71,1.10],[2005.79,1.20],[2005.88,1.33],[2005.97,1.40],[2006.06,1.47],[2006.15,1.54],[2006.24,1.67],[2006.33,1.77],[2006.42,1.84],[2006.50,1.91],[2006.59,2.11],[2006.68,2.15],[2006.77,2.21],[2006.86,2.32],[2006.95,2.42],[2007.04,2.49],[2007.08,2.69],[2007.17,2.69],[2007.26,2.72],[2007.35,2.69],[2007.44,2.72],[2007.53,2.76],[2007.62,2.69],[2007.70,2.76],[2007.79,2.72],[2007.86,2.86],[2007.93,2.76],[2008.02,2.83],[2008.11,2.72],[2008.19,2.69],[2008.28,2.59],[2008.35,2.52],[2008.39,2.05],[2008.44,1.37],[2008.48,0.62],[2008.55,0.62],[2008.62,0.59],[2008.68,0.59],[2008.77,0.42],[2008.86,0.48],[2008.95,0.38],[2009.04,0.35],[2009.10,0.21],[2009.19,0.28],
[2009.27,0.27],[2009.36,0.26],[2009.44,0.27],[2009.53,0.39],[2009.62,0.22],[2009.71,0.12],[2009.80,0.16],[2009.87,0.02],[2009.93,0.26],[2010.00,-0.04],[2010.07,0.22],[2010.15,0.36],[2010.24,0.33],[2010.33,0.22],[2010.42,0.27],[2010.51,0.26],[2010.60,0.27],[2010.69,0.26],[2010.78,0.22],[2010.87,0.16],[2010.95,0.12],[2011.04,0.06],[2011.13,-0.01],[2011.22,0.26],[2011.31,-0.08],[2011.40,-0.01],[2011.49,-0.08],[2011.58,-0.01],[2011.66,0.12],[2011.75,-0.08],[2011.84,-0.01],[2011.93,-0.14],[2012.02,0.06],[2012.11,-0.08],[2012.20,-0.21],[2012.29,-0.21],[2012.46,-0.18],[2012.64,-0.14],[2012.82,-0.14],[2013.00,-0.14],[2013.18,-0.14],[2013.35,-0.14],[2013.53,-0.14],[2013.71,-0.18],[2013.89,-0.14],[2014.06,-0.18],[2014.24,-0.18],[2014.38,-0.21],[2014.42,-0.48],[2014.46,-2.52],[2014.51,-1.64],[2014.57,-1.36],[2014.62,-1.03],[2014.69,-1.06],[2014.82,-1.06],[2014.95,-1.06],[2015.09,-1.03],[2015.17,-0.82],[2015.26,-0.92],[2015.40,-0.99],[2015.53,-1.03],[2015.66,-0.96],[2015.80,-0.96],[2015.93,-0.92],[2016.06,-0.86],
[2016.25,-0.89],[2016.38,-0.96],[2016.52,-0.92],[2016.65,-0.89],[2016.78,-0.86],[2016.91,-0.86],[2017.07,-1.03],[2017.18,-0.89],[2017.31,-0.89],[2017.45,-0.89],[2017.58,-0.86],[2017.71,-0.86],[2017.85,-0.86],[2017.98,-0.89],[2018.16,-0.86],[2018.34,-0.89],[2018.51,-0.92],[2018.69,-0.96],[2018.87,-0.96],[2019.05,-1.06],[2019.22,-0.96],[2019.40,-0.92],[2019.58,-1.06],[2019.71,-0.69],[2019.85,-0.89],[2020.02,-0.99],[2020.20,-0.96],[2020.38,-0.89],[2020.56,-0.92],[2020.73,-0.89],[2020.91,-0.89],[2021.09,-0.92],[2021.27,-0.92],[2021.45,-0.89],[2021.56,-0.79],[2021.65,-0.79],[2021.78,-0.79],[2021.80,-0.28],[2021.85,-0.14],[2021.93,-0.08],[2021.98,0.33],[2022.05,0.50],[2022.14,0.30],[2022.21,0.33],[2022.27,0.53],[2022.33,0.84],[2022.42,0.91],[2022.49,1.11],[2022.53,0.84],[2022.56,1.08]
];

const yieldOvernight: P[] = [
[2008.62,0.15],[2008.68,0.01],[2008.82,0.04],[2009.00,0.01],[2009.18,0.04],[2009.27,0.03],[2009.44,0.03],[2009.56,0.03],[2009.58,-0.18],[2009.62,0.03],[2009.93,0.03],[2010.15,0.06],[2010.51,0.03],[2010.60,-0.01],[2011.04,0.03],[2011.09,0.03],[2011.10,-0.28],[2011.22,-0.28],[2011.26,-0.01],[2011.49,-0.01],[2011.93,-0.08],[2012.38,-0.14],[2012.82,-0.18],[2012.86,-0.35],[2012.90,-0.18],[2013.17,-0.21],[2013.20,-0.35],[2013.26,-0.18],[2013.71,-0.21],[2014.15,-0.25],[2014.46,-0.28],[2014.49,-3.94],[2014.53,-1.23],[2014.60,-1.06],[2014.82,-1.06],[2015.00,-1.03],[2015.02,-1.16],[2015.06,-1.03],[2015.48,-1.03],[2015.89,-1.03],[2015.91,-1.98],[2015.95,-1.16],[2016.06,-1.06],[2016.38,-1.06],[2016.40,-1.70],[2016.43,-1.06],[2016.65,-1.03],[2016.67,-1.64],[2016.70,-1.03],[2017.14,-0.99],[2017.16,-1.23],[2017.18,-0.99],[2017.89,-0.96],[2017.91,-1.16],[2017.93,-0.96],[2018.43,-0.96],[2018.45,-1.13],[2018.47,-0.96],[2018.78,-0.99],[2018.96,-1.06],[2019.23,-0.99],[2019.56,-0.99],[2019.58,-1.23],[2019.60,-0.99],[2020.11,-0.96],[2020.32,-0.96],[2020.34,-1.33],[2020.36,-0.96],[2021.00,-0.92],[2021.36,-0.96],[2021.58,-0.89],[2021.80,-0.86],[2021.82,-0.38],[2021.89,-0.31],[2021.98,-0.28],[2022.07,-0.14],[2022.13,-0.11],[2022.20,-0.01],[2022.27,0.13],[2022.31,0.40],[2022.38,0.50],[2022.51,0.50],[2022.56,0.60]
];

const seriesData: P[][] = [yield30y, yield10y, yield2y, yield1y, yield3m, yieldOvernight];

const titlePlugin = {
  id: "bigTitle",
  afterDraw(chart: any) {
    const { ctx } = chart;
    ctx.save();
    ctx.font = `bold 163px ${FONT}`;
    ctx.fillStyle = "#000";
    ctx.textAlign = "center";
    ctx.textBaseline = "alphabetic";
    ctx.fillText(chartTitle, 1897, 124);
    ctx.restore();
  },
};

const zeroLinePlugin = {
  id: "zeroLine",
  afterDatasetsDraw(chart: any) {
    const { ctx, chartArea, scales } = chart;
    const y0 = scales.y.getPixelForValue(0);
    ctx.save();
    ctx.beginPath();
    ctx.moveTo(chartArea.left, y0);
    ctx.lineTo(chartArea.right, y0);
    ctx.strokeStyle = "#000";
    ctx.lineWidth = 5;
    ctx.stroke();
    ctx.beginPath();
    ctx.moveTo(chartArea.left, y0);
    ctx.lineTo(chartArea.right, y0);
    ctx.strokeStyle = "#bdbdbd";
    ctx.lineWidth = 1.5;
    ctx.stroke();
    ctx.restore();
  },
};

const legendPlugin = {
  id: "insideLegend",
  afterDraw(chart: any) {
    const { ctx } = chart;
    ctx.save();
    ctx.font = `59px ${FONT}`;
    ctx.textAlign = "left";
    ctx.textBaseline = "alphabetic";
    chart.data.datasets.forEach((ds: any, i: number) => {
      const y = 168 + i * 70.4;
      ctx.beginPath();
      ctx.moveTo(3336, y);
      ctx.lineTo(3393, y);
      ctx.strokeStyle = ds.borderColor;
      ctx.lineWidth = 6;
      ctx.stroke();
      ctx.fillStyle = "#000";
      ctx.fillText(ds.label, 3430, y + 22);
    });
    ctx.restore();
  },
};

export default function App() {
  const ref = useRef<HTMLCanvasElement | null>(null);

  useEffect(() => {
    document.body.style.margin = "0";
    const canvas = ref.current;
    if (!canvas) return;
    Chart.defaults.font.family = FONT;
    Chart.defaults.color = "#000";

    const datasets = seriesLabels.map((label, i) => ({
      label,
      data: seriesData[i].map(([x, y]) => ({ x, y })),
      borderColor: seriesColors[i],
      backgroundColor: seriesColors[i],
      borderWidth: 5,
      pointRadius: 0,
      pointHoverRadius: 0,
      tension: 0,
      fill: false,
      spanGaps: false,
    }));

    const yTicksCommon = {
      stepSize: yStep,
      font: { size: 60, weight: "bold" as const },
      color: "#000",
      callback: (v: any) => Number(v).toFixed(1),
    };

    const chart = new Chart(canvas, {
      type: "line",
      data: { datasets },
      plugins: [titlePlugin, zeroLinePlugin, legendPlugin],
      options: {
        animation: false,
        responsive: false,
        devicePixelRatio: 1,
        events: [],
        layout: { padding: { top: 134, left: 0, right: 0, bottom: 0 } },
        plugins: {
          legend: { display: false },
          title: { display: false },
          tooltip: { enabled: false },
        },
        scales: {
          x: {
            type: "linear",
            min: xMin,
            max: xMax,
            grid: { display: false, drawTicks: false },
            border: { display: false },
            afterBuildTicks: (scale: any) => {
              scale.ticks = xTickValues.map((v) => ({ value: v }));
            },
            afterFit: (scale: any) => {
              scale.height = 110;
            },
            ticks: {
              autoSkip: false,
              maxRotation: 90,
              minRotation: 90,
              padding: 20,
              font: { size: 38, weight: "bold" },
              color: "#000",
              callback: (_v: any, i: number) => xTickLabels[i],
            },
          },
          y: {
            type: "linear",
            position: "left",
            min: yMin,
            max: yMax,
            grid: { color: "#c8c8c8", lineWidth: 2, drawTicks: false },
            border: { display: false },
            afterFit: (scale: any) => {
              scale.width = 211;
            },
            ticks: { ...yTicksCommon, padding: 56 },
            title: {
              display: true,
              text: yAxisTitle,
              font: { size: 45, weight: "bold" },
              color: "#000",
              padding: { top: 0, bottom: 0 },
            },
          },
          y2: {
            type: "linear",
            position: "right",
            min: yMin,
            max: yMax,
            grid: { display: false, drawTicks: false },
            border: { display: false },
            afterFit: (scale: any) => {
              scale.width = 143;
            },
            ticks: { ...yTicksCommon, padding: 17 },
          },
        },
      },
    });

    return () => chart.destroy();
  }, []);

  return (
    <div style={{ width: 3848, height: 1090 }}>
      <canvas ref={ref} width={3848} height={1090} style={{ display: "block", width: 3848, height: 1090 }} />
    </div>
  );
}
